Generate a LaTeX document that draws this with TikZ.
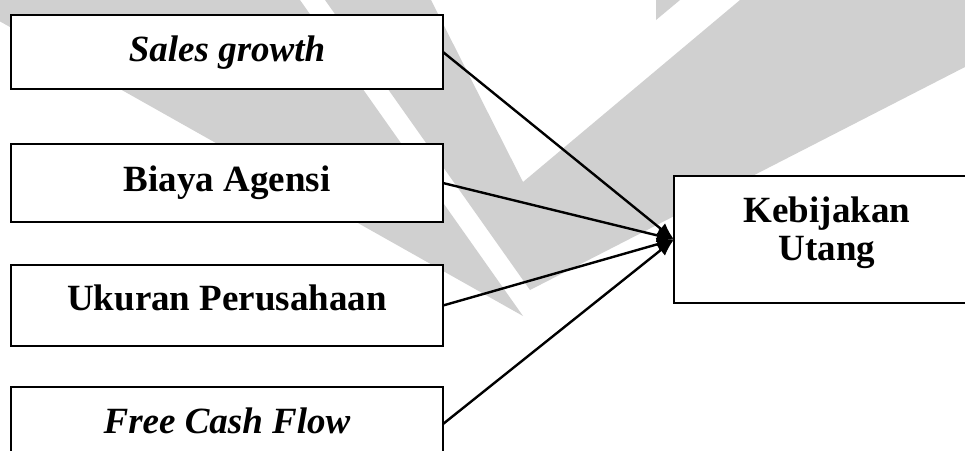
\documentclass[tikz,border=0pt]{standalone}
\usepackage{fontspec}
\setmainfont{Liberation Serif}
\usetikzlibrary{arrows.meta}
\definecolor{wm}{RGB}{208,208,208}
\begin{document}
\begin{tikzpicture}[x=1pt,y=-1pt,
  box/.style={draw=black, line width=2pt, fill=white, rectangle, inner sep=0pt, outer sep=0pt,
    anchor=north west, text height=26pt, text depth=8pt,
    font=\fontsize{37}{38}\selectfont\bfseries},
  conn/.style={line width=2.4pt, -{Latex[length=17pt,width=14pt]}}
]
\useasboundingbox (0,0) rectangle (965,450);
\begin{scope}
  \clip (0,0) rectangle (965,450);
  \fill[wm] (-38,0) -- (300,0) -- (523,316) -- cycle;
  \fill[wm] (325,0) -- (431,0) -- (523,182) -- (740,0) -- (965,0) -- (965,67) -- (530,290) -- cycle;
  \fill[wm] (656,0) -- (680,0) -- (656,20) -- cycle;

  \node[box, minimum width=432pt, minimum height=74pt] (sg) at (11,15) {\textit{Sales growth}};
  \node[box, minimum width=432pt, minimum height=78pt, text depth=10pt] (ba) at (11,144) {Biaya Agensi};
  \node[box, minimum width=432pt, minimum height=81pt, text depth=17pt] (up) at (11,265) {Ukuran Perusahaan};
  \node[box, minimum width=432pt, minimum height=74pt] (fc) at (11,387) {\textit{Free Cash Flow}};
  \node[box, minimum width=306pt, minimum height=127pt, align=center, text height=64pt, text depth=23pt] (ku) at (674,176) {Kebijakan\\Utang};

  \draw[conn] (sg.east) -- (ku.west);
  \draw[conn] (ba.east) -- (ku.west);
  \draw[conn] (up.east) -- (ku.west);
  \draw[conn] (fc.east) -- (ku.west);
\end{scope}
\end{tikzpicture}
\end{document}
